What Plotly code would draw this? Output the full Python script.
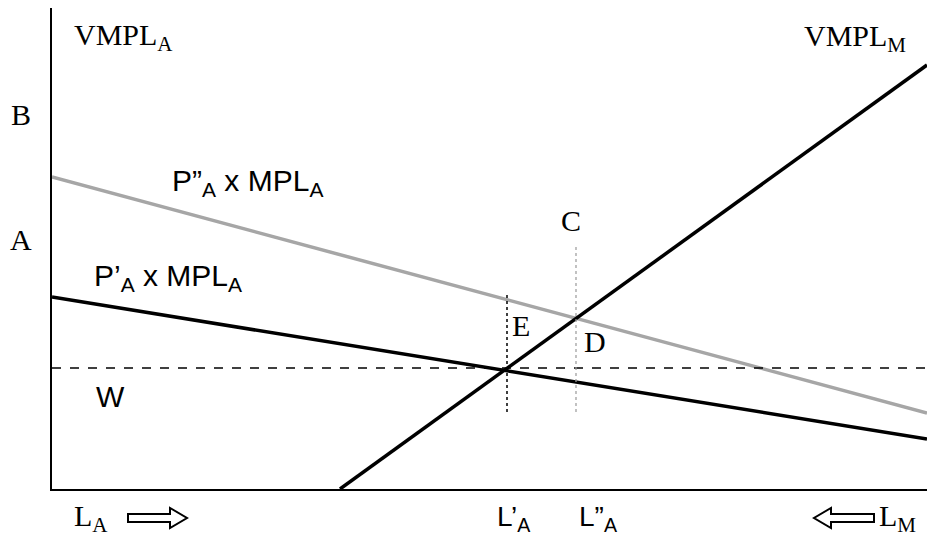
import plotly.graph_objects as go

# curve end points (x: labour measured from L_A, y: value)
x_ends = [0, 875]
p2_mpl = [312, 76]      # P"A x MPLA
p1_mpl = [192, 50]      # P'A x MPLA
vmpl_m_x = [288, 875]
vmpl_m_y = [0, 424]
wage = [121, 121]
e_x = [455, 455]
e_y = [77, 194]
d_x = [524, 524]
d_y = [77, 242]

X_MAX, Y_MAX = 875, 481
serif = "Liberation Serif, Times New Roman, serif"
sans = "Liberation Sans, Arial, sans-serif"

fig = go.Figure()
fig.add_trace(go.Scatter(x=x_ends, y=p2_mpl, mode="lines",
                         line=dict(color="#a6a6a6", width=3.5)))
fig.add_trace(go.Scatter(x=x_ends, y=p1_mpl, mode="lines",
                         line=dict(color="black", width=3.5)))
fig.add_trace(go.Scatter(x=vmpl_m_x, y=vmpl_m_y, mode="lines",
                         line=dict(color="black", width=3.5)))
fig.add_trace(go.Scatter(x=x_ends, y=wage, mode="lines",
                         line=dict(color="black", width=1.5, dash="dash")))
fig.add_trace(go.Scatter(x=e_x, y=e_y, mode="lines",
                         line=dict(color="black", width=1.5, dash="dot")))
fig.add_trace(go.Scatter(x=d_x, y=d_y, mode="lines",
                         line=dict(color="#999999", width=1.2, dash="dot")))


def px(x):
    return (x - 52) / X_MAX


def py(y):
    return (489 - y) / Y_MAX


# text, x, y (picture position of the caps), anchor, font, size
labels = [
    ("VMPL<sub>A</sub>", 72, 37, "left", serif, 30),
    ("VMPL<sub>M</sub>", 908, 38, "right", serif, 30),
    ("B", 21, 115, "center", serif, 30),
    ("A", 21, 239, "center", serif, 30),
    ("P”<sub>A</sub> x MPL<sub>A</sub>", 170, 183, "left", sans, 30),
    ("P’<sub>A</sub> x MPL<sub>A</sub>", 92, 277, "left", sans, 30),
    ("C", 571, 221, "center", serif, 30),
    ("E", 521, 325, "center", serif, 30),
    ("D", 595, 342, "center", serif, 30),
    ("W", 110, 396, "center", sans, 30),
    ("L<sub>A</sub>", 72, 518, "left", serif, 30),
    ("L’<sub>A</sub>", 495, 518, "left", sans, 28),
    ("L”<sub>A</sub>", 577, 518, "left", sans, 28),
    ("L<sub>M</sub>", 877, 518, "left", serif, 30),
]
for text, x, y, anchor, font, size in labels:
    fig.add_annotation(x=px(x), y=py(y), xref="paper", yref="paper", text=text,
                       showarrow=False, xanchor=anchor, yanchor="middle",
                       font=dict(family=font, size=size, color="black"))


def block_arrow(x0, x1, direction):
    # outlined block arrow, drawn in paper units
    head = 17
    if direction > 0:
        pts = [(x0, 514), (x1 - head, 514), (x1 - head, 508), (x1, 518),
               (x1 - head, 528), (x1 - head, 522), (x0, 522)]
    else:
        pts = [(x1, 514), (x0 + head, 514), (x0 + head, 508), (x0, 518),
               (x0 + head, 528), (x0 + head, 522), (x1, 522)]
    path = "M " + " L ".join(f"{px(a):.5f},{py(b):.5f}" for a, b in pts) + " Z"
    fig.add_shape(type="path", path=path, xref="paper", yref="paper",
                  line=dict(color="black", width=2), fillcolor="white")


block_arrow(128, 187, 1)
block_arrow(814, 874, -1)

fig.update_layout(
    width=927, height=540,
    margin=dict(l=52, r=0, t=8, b=51),
    plot_bgcolor="white", paper_bgcolor="white",
    showlegend=False,
    xaxis=dict(range=[0, X_MAX], showgrid=False, zeroline=False, showticklabels=False,
               ticks="", showline=True, linecolor="black", linewidth=2),
    yaxis=dict(range=[0, Y_MAX], showgrid=False, zeroline=False, showticklabels=False,
               ticks="", showline=True, linecolor="black", linewidth=2),
)

fig.write_html("out.html", config={"displayModeBar": False},
               post_script="document.body.style.margin='0';")
